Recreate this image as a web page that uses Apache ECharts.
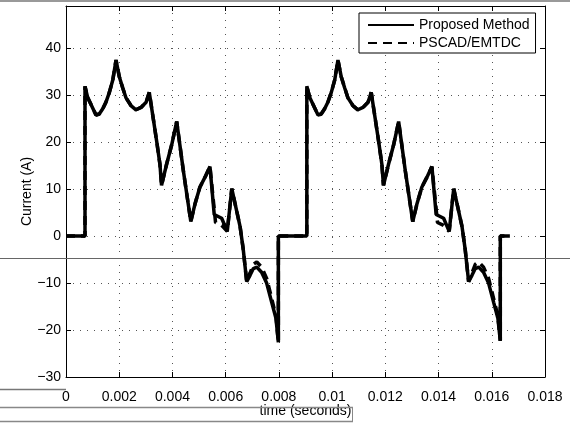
<!DOCTYPE html>
<html>
<head>
<meta charset="utf-8">
<script src="https://cdn.jsdelivr.net/npm/echarts@6/dist/echarts.min.js"></script>
<style>
html,body{margin:0;padding:0;background:#fff;}
#chart{width:570px;height:423px;}
</style>
</head>
<body>
<div id="chart"></div>
<script>
// ---- data ----
const seriesNames = ['Proposed Method', 'PSCAD/EMTDC'];
const xTicks = [0, 0.002, 0.004, 0.006, 0.008, 0.01, 0.012, 0.014, 0.016, 0.018];
const yTicks = [-30, -20, -10, 0, 10, 20, 30, 40];

// [time (s), current (A)]
const proposed = [
  [0, 0], [0.000714, 0], [0.000714, 31.9], [0.000815, 29.5], [0.001127, 25.8],
  [0.00125, 26.0], [0.00138, 27.1], [0.00150, 28.5], [0.00163, 30.6], [0.00176, 33.3],
  [0.00188, 37.5], [0.00200, 34.0], [0.00213, 31.6], [0.00225, 29.5], [0.00244, 27.8],
  [0.00263, 26.9], [0.00282, 27.4], [0.00301, 28.5], [0.00313, 30.6], [0.00328, 25.0],
  [0.00341, 20.1], [0.00353, 15.3], [0.00359, 10.8], [0.00378, 15.3], [0.00397, 19.4],
  [0.00416, 24.4], [0.00441, 13.9], [0.00469, 3.1], [0.00485, 6.9], [0.00503, 10.4],
  [0.00522, 12.5], [0.00541, 14.8], [0.00557, 4.6], [0.00585, 3.8], [0.00606, 1.0],
  [0.00623, 10.1], [0.00654, 2.1], [0.00666, -2.8], [0.00679, -9.7], [0.00692, -8.3],
  [0.00704, -6.9], [0.00717, -6.6], [0.00735, -7.7], [0.00754, -10.0], [0.00773, -14.1],
  [0.00789, -17.5], [0.00798, -22.6], [0.00798, 0],
  [0.00905, 0], [0.00905, 31.9], [0.00916, 29.5], [0.00947, 25.8],
  [0.00959, 26.0], [0.00972, 27.1], [0.00984, 28.5], [0.00997, 30.6], [0.01010, 33.3],
  [0.01022, 37.5], [0.01034, 34.0], [0.01047, 31.6], [0.01059, 29.5], [0.01078, 27.8],
  [0.01097, 26.9], [0.01116, 27.4], [0.01135, 28.5], [0.01147, 30.6], [0.01162, 25.0],
  [0.01175, 20.1], [0.01187, 15.3], [0.01193, 10.8], [0.01212, 15.3], [0.01231, 19.4],
  [0.01250, 24.4], [0.01275, 13.9], [0.01303, 3.1], [0.01319, 6.9], [0.01337, 10.4],
  [0.01356, 12.5], [0.01375, 14.8], [0.01391, 4.6], [0.01419, 3.8], [0.01440, 1.0],
  [0.01457, 10.1], [0.01488, 2.1], [0.01500, -2.8], [0.01513, -9.7], [0.01526, -8.3],
  [0.01538, -6.9], [0.01551, -6.6], [0.01569, -7.7], [0.01588, -10.0], [0.01607, -14.1],
  [0.01623, -17.5], [0.01632, -22.3], [0.01632, 0], [0.01668, 0]
];

const pscad = [
  [0, 0], [0.000714, 0], [0.000714, 31.9], [0.000815, 29.5], [0.001127, 25.8],
  [0.00125, 26.0], [0.00138, 27.1], [0.00150, 28.5], [0.00163, 30.6], [0.00176, 33.3],
  [0.00188, 37.5], [0.00200, 34.0], [0.00213, 31.6], [0.00225, 29.5], [0.00244, 27.8],
  [0.00263, 26.9], [0.00282, 27.4], [0.00301, 28.5], [0.00313, 30.6], [0.00328, 25.0],
  [0.00341, 20.1], [0.00353, 15.3], [0.00359, 10.8], [0.00378, 15.3], [0.00397, 19.4],
  [0.00416, 24.4], [0.00441, 13.9], [0.00469, 3.1], [0.00485, 6.9], [0.00503, 10.4],
  [0.00522, 12.5], [0.00541, 14.8], [0.00562, 2.9], [0.00585, 2.3], [0.00606, 1.0],
  [0.00623, 10.1], [0.00654, 2.1], [0.00666, -2.8], [0.00679, -9.7], [0.00692, -7.8],
  [0.00704, -6.0], [0.00717, -5.5], [0.00735, -6.6], [0.00754, -9.0], [0.00773, -13.3],
  [0.00789, -17.0], [0.00798, -22.6], [0.00798, 0],
  [0.00905, 0], [0.00905, 31.9], [0.00916, 29.5], [0.00947, 25.8],
  [0.00959, 26.0], [0.00972, 27.1], [0.00984, 28.5], [0.00997, 30.6], [0.01010, 33.3],
  [0.01022, 37.5], [0.01034, 34.0], [0.01047, 31.6], [0.01059, 29.5], [0.01078, 27.8],
  [0.01097, 26.9], [0.01116, 27.4], [0.01135, 28.5], [0.01147, 30.6], [0.01162, 25.0],
  [0.01175, 20.1], [0.01187, 15.3], [0.01193, 10.8], [0.01212, 15.3], [0.01231, 19.4],
  [0.01250, 24.4], [0.01275, 13.9], [0.01303, 3.1], [0.01319, 6.9], [0.01337, 10.4],
  [0.01356, 12.5], [0.01375, 14.8], [0.01396, 2.9], [0.01419, 2.3], [0.01440, 1.0],
  [0.01457, 10.1], [0.01488, 2.1], [0.01500, -2.8], [0.01513, -9.7], [0.01526, -7.8],
  [0.01538, -6.0], [0.01551, -5.5], [0.01569, -6.6], [0.01588, -9.0], [0.01607, -13.3],
  [0.01623, -17.0], [0.01632, -22.3], [0.01632, 0], [0.01668, 0]
];

// ---- chart ----
const FONT = '"Liberation Sans", Arial, Helvetica, sans-serif';
const chart = echarts.init(document.getElementById('chart'), null, {renderer: 'canvas'});
const fmtX = v => String(+v.toFixed(3));
const fmtY = v => String(Math.round(v)).replace('-', '\u2212');
const gridLine = {show: true, lineStyle: {color: '#555', width: 1, type: [1, 6]}};
const tick = {show: true, inside: true, length: 5, lineStyle: {color: '#000', width: 1}};
const line = {show: true, onZero: false, lineStyle: {color: '#000', width: 1}};

chart.setOption({
  animation: false,
  backgroundColor: '#fff',
  grid: {left: 66, right: 25, top: 6, bottom: 40, containLabel: false},
  legend: {
    data: seriesNames,
    orient: 'vertical',
    left: 359, top: 13,
    padding: [5, 6, 3, 8],
    itemWidth: 46, itemHeight: 14, itemGap: 4,
    backgroundColor: '#fff',
    borderColor: '#000', borderWidth: 1, borderRadius: 0,
    itemStyle: {opacity: 0},
    textStyle: {fontFamily: FONT, fontSize: 14, color: '#000'}
  },
  xAxis: [{
    type: 'value', min: 0, max: 0.018, interval: 0.002,
    name: 'time (seconds)', nameLocation: 'middle', nameGap: 27, nameMoveOverlap: false,
    nameTextStyle: {fontFamily: FONT, fontSize: 14, color: '#000'},
    axisLine: line, axisTick: tick, splitLine: gridLine,
    axisLabel: {formatter: fmtX, fontFamily: FONT, fontSize: 14, color: '#000', margin: 13}
  }, {
    type: 'value', position: 'top', min: 0, max: 0.018, interval: 0.002,
    axisLine: line, axisTick: tick, splitLine: {show: false}, axisLabel: {show: false}
  }],
  yAxis: [{
    type: 'value', min: -30, max: 49, interval: 10,
    name: 'Current (A)', nameLocation: 'middle', nameGap: 32, nameRotate: 90, nameMoveOverlap: false,
    nameTextStyle: {fontFamily: FONT, fontSize: 14, color: '#000'},
    axisLine: line, axisTick: tick, splitLine: gridLine,
    axisLabel: {formatter: fmtY, showMaxLabel: false, fontFamily: FONT, fontSize: 14, color: '#000', margin: 5}
  }, {
    type: 'value', position: 'right', min: -30, max: 49, interval: 10,
    axisLine: line, axisTick: tick, splitLine: {show: false}, axisLabel: {show: false}
  }],
  series: [{
    name: seriesNames[0], type: 'line', data: proposed,
    xAxisIndex: 0, yAxisIndex: 0,
    symbol: 'none', smooth: false,
    lineStyle: {color: '#000', width: 3.5, type: 'solid'},
    itemStyle: {color: '#000'}
  }, {
    name: seriesNames[1], type: 'line', data: pscad,
    xAxisIndex: 0, yAxisIndex: 0,
    symbol: 'none', smooth: false,
    lineStyle: {color: '#000', width: 3.5, type: [9, 6]},
    itemStyle: {color: '#000'}
  }],
  graphic: [
    {type: 'line', shape: {x1: 0, y1: 1, x2: 570, y2: 1}, style: {stroke: '#999', lineWidth: 2}, z: 1},
    {type: 'line', shape: {x1: 0, y1: 258.5, x2: 570, y2: 258.5}, style: {stroke: '#666', lineWidth: 1}, z: 1},
    {type: 'line', shape: {x1: 0, y1: 389.5, x2: 66, y2: 389.5}, style: {stroke: '#777', lineWidth: 1.5}, z: 1},
    {type: 'line', shape: {x1: 0, y1: 407.5, x2: 353, y2: 407.5}, style: {stroke: '#888', lineWidth: 1.5}, z: 1},
    {type: 'line', shape: {x1: 0, y1: 421.5, x2: 353, y2: 421.5}, style: {stroke: '#888', lineWidth: 1.5}, z: 1},
    {type: 'line', shape: {x1: 352.5, y1: 407.5, x2: 352.5, y2: 421.5}, style: {stroke: '#888', lineWidth: 1}, z: 1}
  ]
});
</script>
</body>
</html>
